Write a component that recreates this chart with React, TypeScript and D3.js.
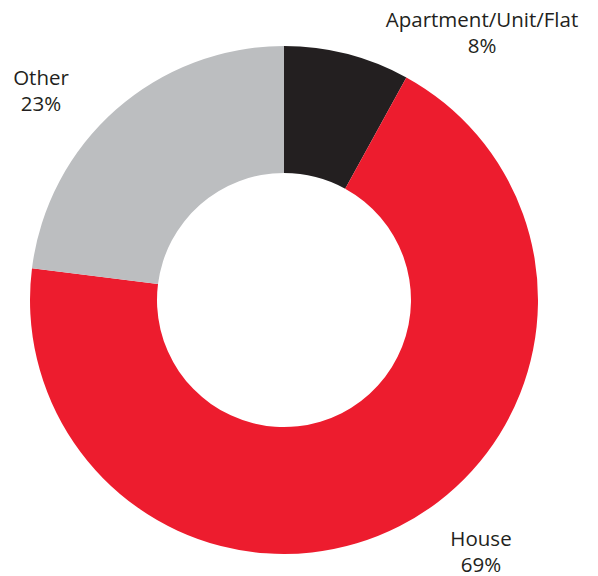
import React from "react";
import * as d3 from "d3";

const categories = ["Apartment/Unit/Flat", "House", "Other"];
const values = [8, 69, 23];
const colors = ["#231f20", "#ed1c2e", "#bcbec0"];
const labelPos: [number, number][] = [[482, 27], [481, 546], [41, 85]];

export default function App() {
  const W = 598, H = 576;
  const cx = 284, cy = 300, R = 254, r = 127;
  const pie = d3.pie<number>().sort(null).value((d) => d);
  const arcs = pie(values);
  const arc = d3.arc<d3.PieArcDatum<number>>().innerRadius(r).outerRadius(R);
  return (
    <svg width={W} height={H} style={{ position: "absolute", left: 0, top: 0 }}>
      <rect width={W} height={H} fill="#fff" />
      <g transform={`translate(${cx},${cy})`}>
        {arcs.map((a, i) => (
          <path key={i} d={arc(a) || ""} fill={colors[i]} />
        ))}
      </g>
      {categories.map((c, i) => (
        <text key={c} x={labelPos[i][0]} y={labelPos[i][1]} textAnchor="middle"
          fontFamily="'Open Sans', sans-serif" fontSize={20.5} fill="#231f20">
          <tspan x={labelPos[i][0]}>{c}</tspan>
          <tspan x={labelPos[i][0]} dy={26}>{values[i]}%</tspan>
        </text>
      ))}
    </svg>
  );
}
